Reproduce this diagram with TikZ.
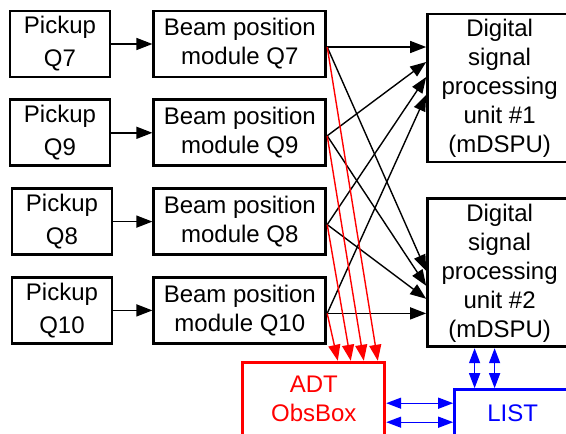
\documentclass[tikz,border=0pt]{standalone}
\usepackage{fontspec}
\setmainfont{Liberation Sans}
\usetikzlibrary{positioning,calc,arrows.meta}

\begin{document}
\begin{tikzpicture}[x=1pt,y=-1pt,
		box/.style={draw,line width=2.8pt,align=center,inner sep=0pt,font=\fontsize{24}{29}\selectfont},
		pickup/.style={box,minimum width=100pt,minimum height=66pt},
		bpm/.style={box,minimum width=172pt,minimum height=66pt},
		dspu/.style={box,minimum width=144pt,minimum height=148pt},
		sig/.style={-{Triangle[length=16pt,width=12pt]},line width=1.4pt},
		obs/.style={sig,red},
		lnk/.style={{Triangle[length=15pt,width=11pt]}-{Triangle[length=15pt,width=11pt]},line width=1.4pt,blue}]
		\clip (0,0) rectangle (566,434);
		\node[pickup] (p7) at (60,44) {Pickup\\[4pt]Q7};
		\node[pickup,below=20pt of p7] (p9) {Pickup\\[4pt]Q9};
		\node[pickup,below=20pt of p9,shift={(2,0)}] (p8) {Pickup\\[4pt]Q8};
		\node[pickup,below=20pt of p8] (p10) {Pickup\\[4pt]Q10};
		\node[bpm,right=41pt of p7] (b7) {Beam position\\module Q7};
		\node[bpm,right=41pt of p9] (b9) {Beam position\\module Q9};
		\node[bpm,below=20pt of b9] (b8) {Beam position\\module Q8};
		\node[bpm,below=20pt of b8] (b10) {Beam position\\module Q10};
		\node[dspu,anchor=north west,shift={(99,3)}] (d1) at (b7.north east) {Digital\\signal\\processing\\unit \#1\\(mDSPU)};
		\node[dspu,below=34pt of d1] (d2) {Digital\\signal\\processing\\unit \#2\\(mDSPU)};
		\node[box,draw=red,text=red,minimum width=142pt,minimum height=74pt,anchor=north west,shift={(89,16)}] (adt) at (b10.south west) {ADT\\ObsBox};
		\node[box,draw=blue,text=blue,minimum width=116pt,minimum height=48pt,anchor=north west,shift={(27,40)}] (list) at (d2.south west) {LIST};
		\coordinate (o7) at ([yshift=-3pt]b7.east);
		\coordinate (o9) at ([yshift=-3pt]b9.east);
		\coordinate (o8) at ([yshift=-3pt]b8.east);
		\coordinate (o10) at ([yshift=-3pt]b10.east);
		% pickups to modules
		\draw[sig] (p7) -- (b7);
		\draw[sig] (p9) -- (b9);
		\draw[sig] (p8.east) -- (p8.east -| b8.west);
		\draw[sig] (p10.east) -- (p10.east -| b10.west);
		% modules to the two units
		\draw[sig] (o7) -- (o7 -| d1.west);
		\draw[sig] (o9) -- ([yshift=26pt]d1.west);
		\draw[sig] (o8) -- ([yshift=11pt]d1.west);
		\draw[sig] (o10) -- ([yshift=-7pt]d1.west);
		\draw[sig] (o7) -- ([yshift=2pt]d2.west);
		\draw[sig] (o9) -- ([yshift=-13pt]d2.west);
		\draw[sig] (o8) -- ([yshift=-26pt]d2.west);
		\draw[sig] (o10) -- (o10 -| d2.west);
		% modules to ObsBox
		\draw[obs] (o10) -- ([xshift=24pt]adt.north);
		\draw[obs] (o8) -- ([xshift=37pt]adt.north);
		\draw[obs] (o9) -- ([xshift=50pt]adt.north);
		\draw[obs] (o7) -- ([xshift=64pt]adt.north);
		% LIST links
		\draw[lnk] ([xshift=-38pt]list.north) -- ([xshift=-38pt]list.north |- d2.south);
		\draw[lnk] ([xshift=-18pt]list.north) -- ([xshift=-18pt]list.north |- d2.south);
		\draw[lnk] ([yshift=-4pt]adt.east) -- ([yshift=-4pt]adt.east -| list.west);
		\draw[lnk] ([yshift=-23pt]adt.east) -- ([yshift=-23pt]adt.east -| list.west);
	\end{tikzpicture}
\end{document}
